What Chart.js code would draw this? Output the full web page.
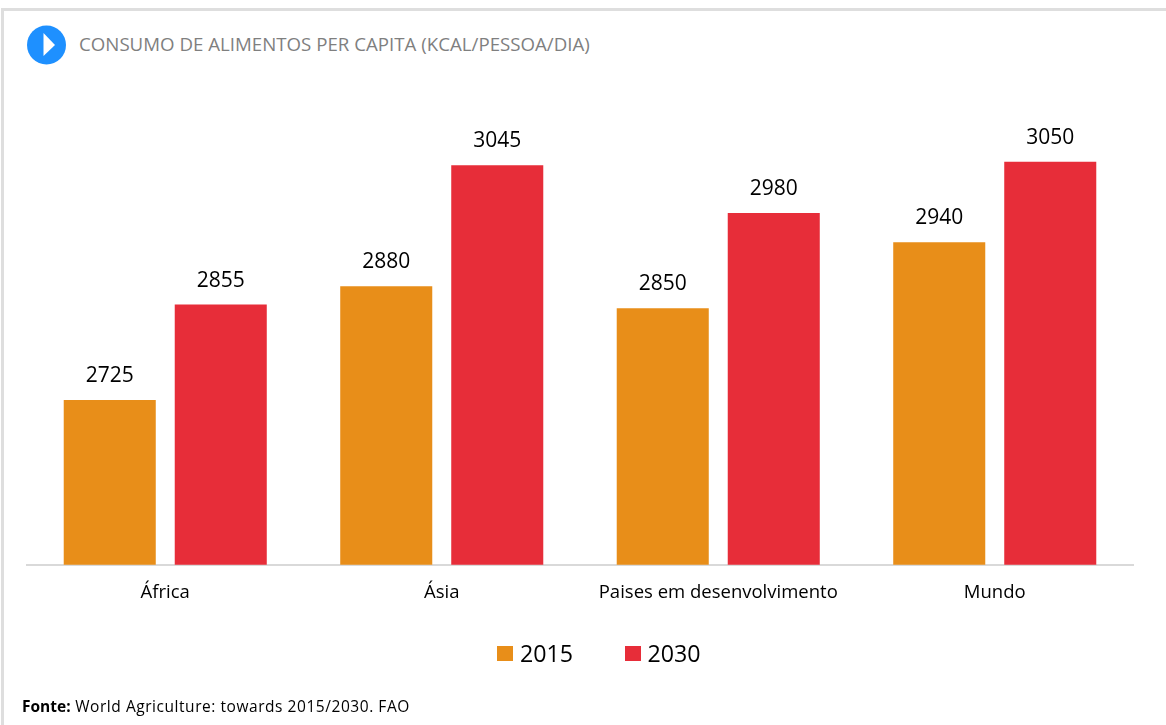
<!DOCTYPE html>
<html lang="pt">
<head>
<meta charset="utf-8">
<title>Consumo de alimentos per capita</title>
<script src="https://cdn.jsdelivr.net/npm/chart.js@4"></script>
<style>
  html, body { margin: 0; padding: 0; background: #fff; }
  body { width: 1166px; height: 725px; position: relative; overflow: hidden; font-family: "Open Sans", sans-serif; }
  /* moldura cinza: só em cima e à esquerda */
  #frame { position: absolute; left: 1px; top: 8px; right: 0; bottom: 0; border-top: 3px solid #dedede; border-left: 3px solid #dedede; }
  #icon { position: absolute; left: 26px; top: 25px; width: 40px; height: 40px; }
  #title { position: absolute; left: 79px; top: 32px; font-size: 18.7px; line-height: 24px; color: #7f7f7f; white-space: nowrap; }
  #chart { position: absolute; left: 0; top: 0; }
  #legend { position: absolute; left: 497px; top: 637px; display: flex; font-size: 23.2px; line-height: 32px; color: #000; }
  #legend span.item { display: flex; align-items: center; margin-right: 51.5px; }
  #legend i { display: block; width: 16px; height: 15px; margin-right: 7px; }
  #source { position: absolute; left: 22px; top: 696px; font-size: 15.5px; line-height: 20px; letter-spacing: 0.55px; color: #000; white-space: nowrap; }
  #source b { letter-spacing: 0; }
</style>
</head>
<body>
<div id="frame"></div>
<svg id="icon" viewBox="0 0 40 40"><circle cx="20.5" cy="20" r="19.5" fill="#1e90ff"/><path d="M17.5 8 L29 20 L17.5 31 Z" fill="#fff"/></svg>
<div id="title">CONSUMO DE ALIMENTOS PER CAPITA (KCAL/PESSOA/DIA)</div>
<canvas id="chart" width="1166" height="725"></canvas>
<div id="legend"></div>
<div id="source"><b>Fonte:</b> World Agriculture: towards 2015/2030. FAO</div>
<script>
// Dados
const categorias = ["África", "Ásia", "Paises em desenvolvimento", "Mundo"];
const valores2015 = [2725, 2880, 2850, 2940];
const valores2030 = [2855, 3045, 2980, 3050];
const corLaranja = "#e88e19";
const corVermelho = "#e72d39";

// Escreve o valor em cima de cada barra
const rotulosBarras = {
  id: "rotulosBarras",
  afterDatasetsDraw(chart) {
    const ctx = chart.ctx;
    ctx.save();
    ctx.font = '21px "Open Sans"';
    ctx.fillStyle = "#000";
    ctx.textAlign = "center";
    ctx.textBaseline = "alphabetic";
    chart.data.datasets.forEach((ds, i) => {
      chart.getDatasetMeta(i).data.forEach((bar, j) => {
        ctx.fillText(ds.data[j], bar.x, bar.y - 18);
      });
    });
    ctx.restore();
  }
};

const grafico = new Chart(document.getElementById("chart"), {
  type: "bar",
  data: {
    labels: categorias,
    datasets: [
      { label: "2015", data: valores2015, backgroundColor: corLaranja },
      { label: "2030", data: valores2030, backgroundColor: corVermelho }
    ]
  },
  options: {
    responsive: false,
    animation: false,
    categoryPercentage: 0.803,
    barPercentage: 0.829,
    layout: { padding: { left: 27, right: 33, top: 125, bottom: 112 } },
    plugins: { legend: { display: false }, tooltip: { enabled: false } },
    scales: {
      x: {
        grid: { display: false },
        border: { color: "#d9d9d9", width: 2 },
        ticks: { color: "#000", padding: 9, font: { family: "Open Sans", size: 18.5 } }
      },
      y: { display: false, min: 2500, max: 3100 }
    }
  },
  plugins: [rotulosBarras]
});

// Legenda em HTML feita a partir dos datasets
const legenda = document.getElementById("legend");
grafico.data.datasets.forEach(ds => {
  const item = document.createElement("span");
  item.className = "item";
  const caixa = document.createElement("i");
  caixa.style.background = ds.backgroundColor;
  item.appendChild(caixa);
  item.appendChild(document.createTextNode(ds.label));
  legenda.appendChild(item);
});
</script>
</body>
</html>
